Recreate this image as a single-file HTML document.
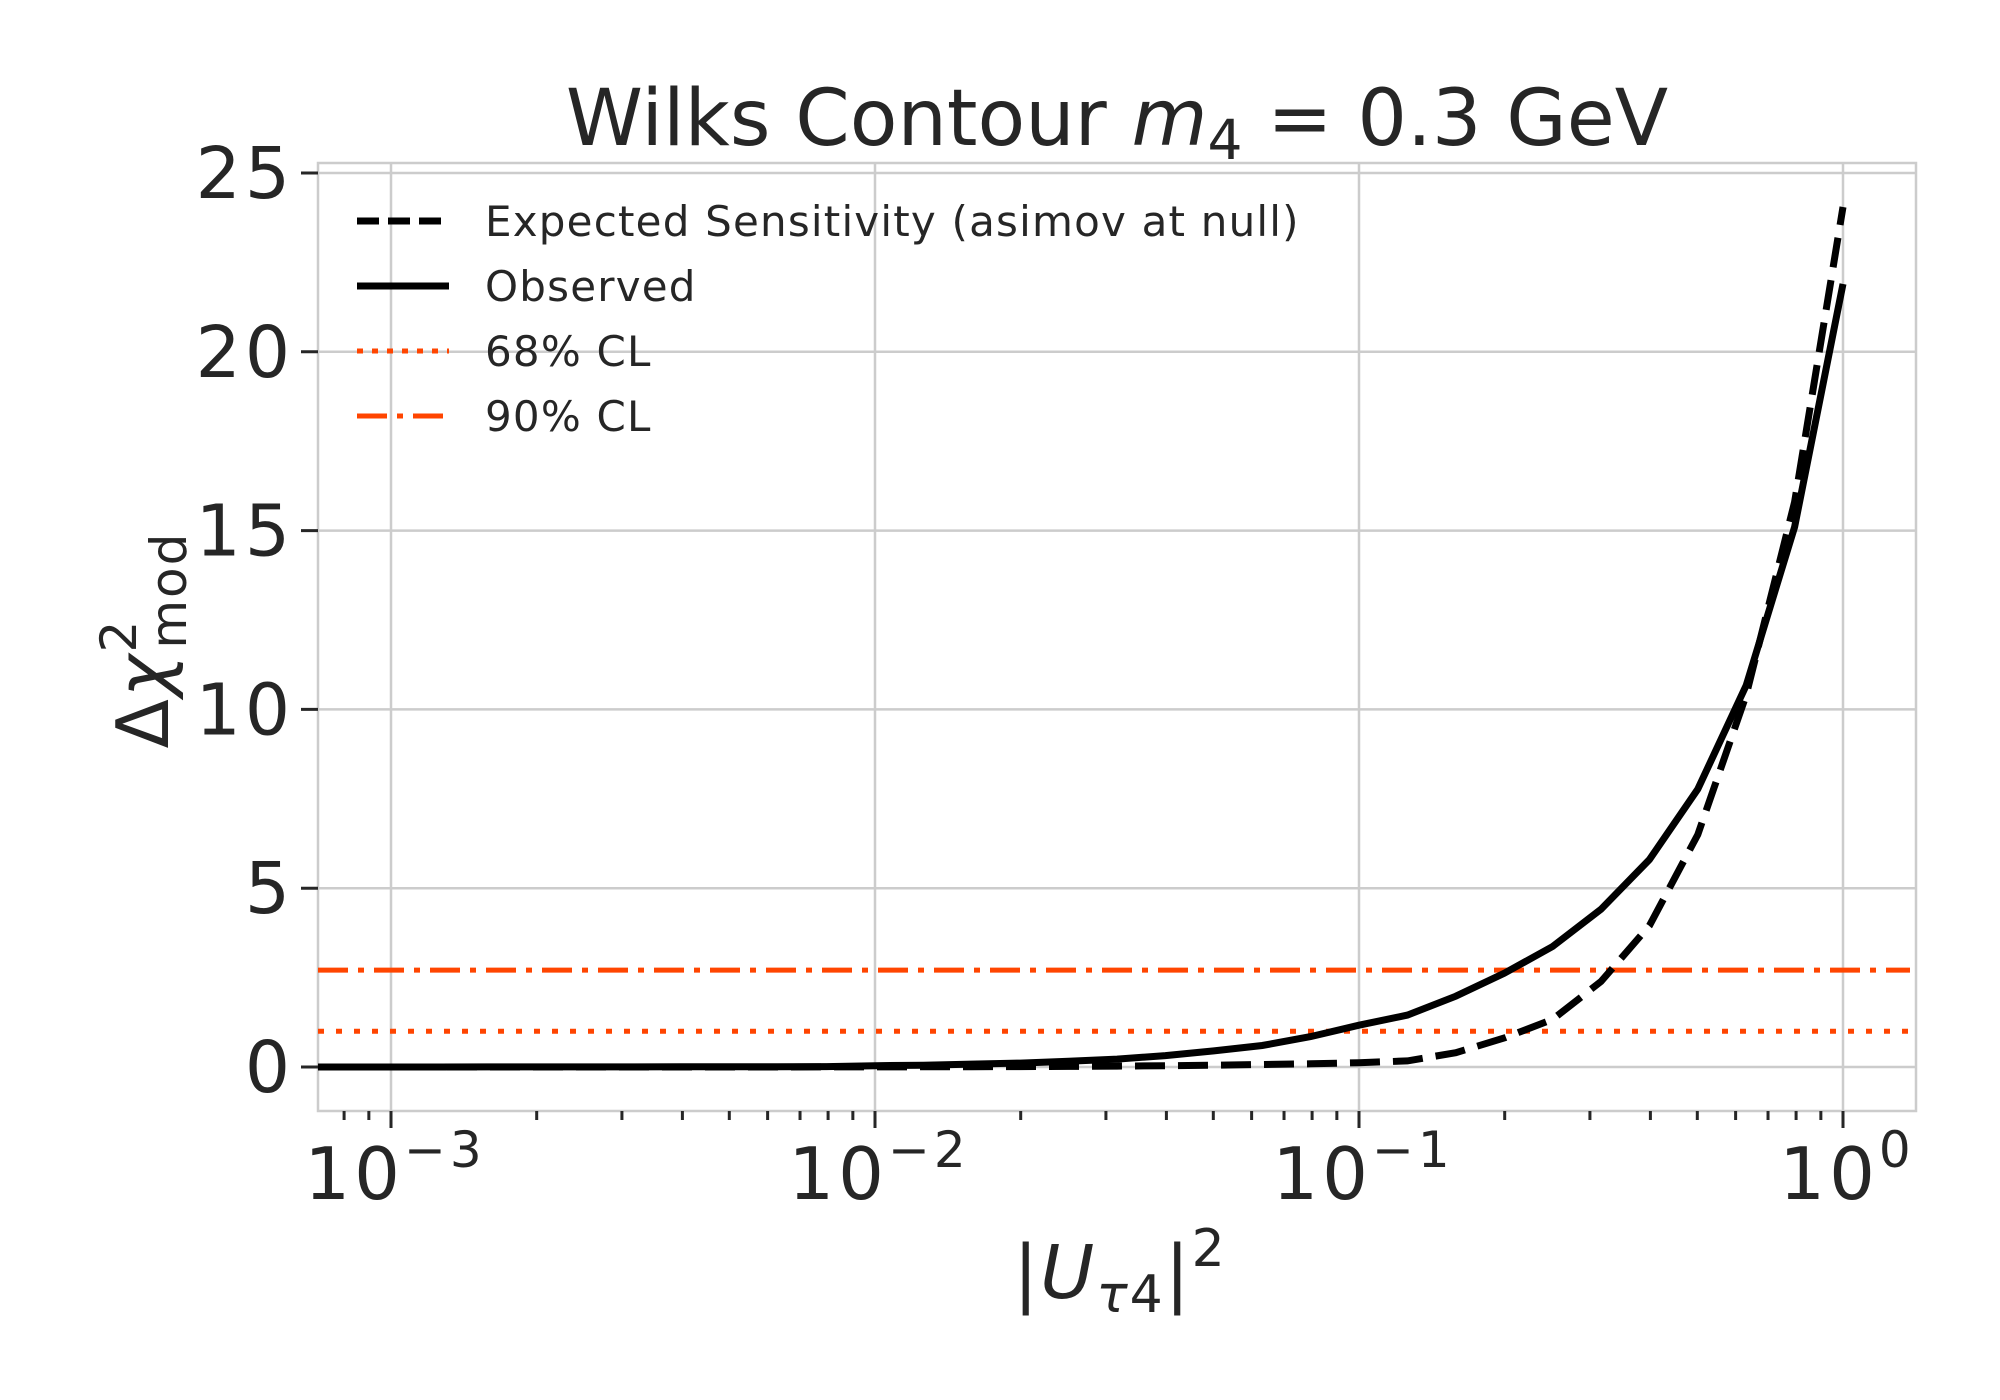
<!DOCTYPE html>
<html><head><meta charset="utf-8"><style>
html,body{margin:0;padding:0;background:#fff;}
svg{display:block;font-family:"DejaVu Sans","Liberation Sans",sans-serif;}
</style></head><body>
<svg id="chart" width="2000" height="1400" viewBox="0 0 2000 1400" xmlns="http://www.w3.org/2000/svg">
<rect x="0" y="0" width="2000" height="1400" fill="#fff"/>
<g id="grid"></g>
<rect x="318" y="163" width="1598" height="948" fill="none" stroke="#cccccc" stroke-width="2.5"/>
<g id="ticks"></g>
<g id="series"></g>
<text x="1117" y="145" font-size="78" fill="#262626" text-anchor="middle">Wilks Contour <tspan font-style="italic">m</tspan><tspan font-size="55" dy="14">4</tspan><tspan dy="-14"> = 0.3 GeV</tspan></text>
<text x="1120" y="1298" font-size="74" fill="#262626" text-anchor="middle" letter-spacing="2">|<tspan font-style="italic">U</tspan><tspan font-size="52" dy="14" font-style="italic">τ</tspan><tspan font-size="52">4</tspan><tspan dy="-14">|</tspan><tspan font-size="52" dy="-32">2</tspan></text>
<text transform="translate(168,640) rotate(-90)" font-size="72" fill="#262626" text-anchor="middle" letter-spacing="2">Δ<tspan font-style="italic">χ</tspan><tspan font-size="50" dy="-32">2</tspan><tspan font-size="50" dx="-30" dy="50">mod</tspan></text>
<g id="legend">
  <line x1="357" y1="221" x2="449" y2="221" stroke="#000" stroke-width="7" stroke-dasharray="22,9"/>
  <text x="485" y="236" font-size="42" fill="#262626" letter-spacing="1.2">Expected Sensitivity (asimov at null)</text>
  <line x1="357" y1="286" x2="449" y2="286" stroke="#000" stroke-width="7"/>
  <text x="485" y="301" font-size="42" fill="#262626" letter-spacing="1.2">Observed</text>
  <line x1="357" y1="351" x2="449" y2="351" stroke="#ff4500" stroke-width="5" stroke-dasharray="6,9"/>
  <text x="485" y="366" font-size="42" fill="#262626" letter-spacing="1.2">68% CL</text>
  <line x1="357" y1="416" x2="449" y2="416" stroke="#ff4500" stroke-width="5" stroke-dasharray="30,10,6,10"/>
  <text x="485" y="431" font-size="42" fill="#262626" letter-spacing="1.2">90% CL</text>
</g>
</svg>
<script>
const logX = [-3,-2.9,-2.8,-2.7,-2.6,-2.5,-2.4,-2.3,-2.2,-2.1,-2,-1.9,-1.8,-1.7,-1.6,-1.5,-1.4,-1.3,-1.2,-1.1,-1,-0.9,-0.8,-0.7,-0.6,-0.5,-0.4,-0.3,-0.2,-0.1,0];
const observed = [0.001,0.001,0.002,0.002,0.003,0.004,0.005,0.006,0.008,0.011,0.035,0.05,0.08,0.11,0.16,0.22,0.32,0.45,0.6,0.85,1.17,1.45,1.98,2.62,3.37,4.41,5.8,7.77,10.67,15.1,21.9];
const expected = [0,0,0,0,0,0,0,0.001,0.001,0.002,0.003,0.005,0.008,0.012,0.018,0.025,0.035,0.05,0.07,0.09,0.12,0.17,0.4,0.81,1.33,2.39,3.95,6.5,10.4,15.8,24.05];
const cl68 = 1.0;
const cl90 = 2.71;
const yTicks = [0,5,10,15,20,25];
const xDecades = [-3,-2,-1,0];
const xDecadeLabels = ["−3","−2","−1","0"];

const NS = "http://www.w3.org/2000/svg";
const X0 = 391, DEC = 484, Y0 = 1067, PU = 35.76;
const L = 318, R = 1916, T = 163, B = 1111;
function sx(lg){ return X0 + (lg + 3) * DEC; }
function sy(v){ return Y0 - v * PU; }
function mk(tag, attrs, parent){ const e = document.createElementNS(NS, tag); for (const k in attrs) e.setAttribute(k, attrs[k]); parent.appendChild(e); return e; }

const grid = document.getElementById('grid');
const ticks = document.getElementById('ticks');
yTicks.forEach(v => {
  const g = mk('line', {x1:L, x2:R, y1:sy(v), y2:sy(v), stroke:'#cccccc', 'stroke-width':2.5}, grid);
  
  
  const t = mk('line', {x1:L-17, x2:L, y1:sy(v), y2:sy(v), stroke:'#262626', 'stroke-width':3}, ticks);
  
  
  const lb = mk('text', {x:L-24, y:sy(v)+25, 'font-size':71, fill:'#262626', 'text-anchor':'end', 'letter-spacing':4}, ticks);
  lb.textContent = String(v);
  
  
});
xDecades.forEach((d, i) => {
  const g = mk('line', {x1:sx(d), x2:sx(d), y1:T, y2:B, stroke:'#cccccc', 'stroke-width':2.5}, grid);
  
  
  const t = mk('line', {x1:sx(d), x2:sx(d), y1:B, y2:B+17, stroke:'#262626', 'stroke-width':3}, ticks);
  
  
  const lb = mk('text', {x:sx(d)+4, y:B+88, 'font-size':72, fill:'#262626', 'text-anchor':'middle', 'letter-spacing':4}, ticks);
  
  
  lb.innerHTML = '10<tspan font-size="50" dy="-32">' + xDecadeLabels[i] + '</tspan>';
});
for (let d = -4; d <= 0; d++) {
  for (let m = 2; m <= 9; m++) {
    const x = sx(d + Math.log10(m));
    if (x < L || x > R) continue;
    const t = mk('line', {x1:x, x2:x, y1:B, y2:B+9, stroke:'#262626', 'stroke-width':3}, ticks);
    
    
  }
}

const series = document.getElementById('series');
const h90 = mk('line', {x1:L, x2:R-6, y1:sy(cl90), y2:sy(cl90), stroke:'#ff4500', 'stroke-width':5, 'stroke-dasharray':'30,10,6,10'}, series);


const h68 = mk('line', {x1:L, x2:R-6, y1:sy(cl68), y2:sy(cl68), stroke:'#ff4500', 'stroke-width':5, 'stroke-dasharray':'6,12'}, series);


function pts(arr){ return arr.map((v,i) => sx(logX[i]).toFixed(1) + ',' + sy(v).toFixed(1)).join(' '); }
function ptsExt(arr){ return L + ',' + sy(arr[0]).toFixed(1) + ' ' + pts(arr); }
const pe = mk('polyline', {points:ptsExt(expected), fill:'none', stroke:'#000', 'stroke-width':7, 'stroke-dasharray':'30,13'}, series);


const po = mk('polyline', {points:ptsExt(observed), fill:'none', stroke:'#000', 'stroke-width':7}, series);


</script>
</body></html>
